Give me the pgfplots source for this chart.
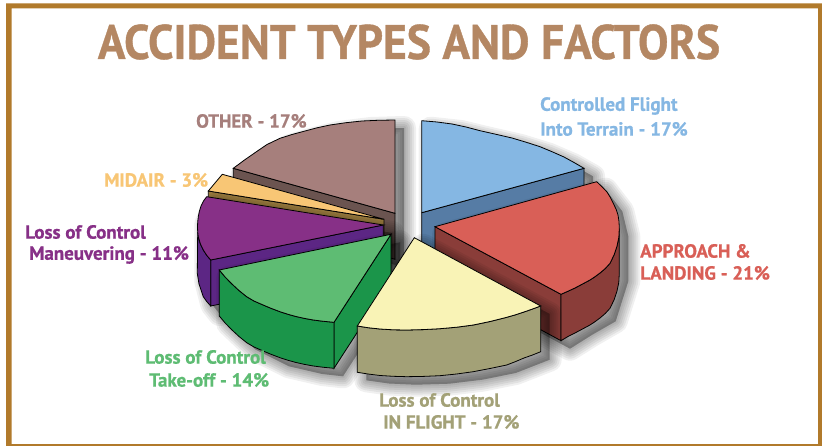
\documentclass[border=0pt]{standalone}
\usepackage{pgfplots}
\usepackage{pgfplotstable}
\pgfplotsset{compat=1.18}
\usepackage{fontspec}
\setmainfont{PT Sans}[BoldFeatures={FakeBold=0.8}]
\definecolor{frame}{HTML}{B17A2B}
\definecolor{ttl}{HTML}{B48763}
\definecolor{bluet}{HTML}{85B7E3}\definecolor{blues}{HTML}{567CA5}
\definecolor{redt}{HTML}{D95F57}\definecolor{reds}{HTML}{8A3D39}
\definecolor{yelt}{HTML}{F9F3B6}\definecolor{yels}{HTML}{A3A177}
\definecolor{grnt}{HTML}{5EBC73}\definecolor{grns}{HTML}{1B954A}
\definecolor{purt}{HTML}{873087}\definecolor{purs}{HTML}{5C2684}
\definecolor{midt}{HTML}{F8C675}\definecolor{mids}{HTML}{9A7B3E}
\definecolor{otht}{HTML}{A67F7C}\definecolor{oths}{HTML}{6B5450}
\pgfplotsset{sh/.style={draw=black,fill=black,opacity=0.06,line width=#1pt,line join=round,forget plot},
  sl/.style={draw=black,line width=.8pt,line join=miter,fill=#1,forget plot}}
\newcommand{\shadowplot}[1]{%
  \addplot[sh=24] table[x expr=\thisrow{x}+9,y expr=\thisrow{y}+8] {#1} -- cycle;
  \addplot[sh=20] table[x expr=\thisrow{x}+9,y expr=\thisrow{y}+8] {#1} -- cycle;
  \addplot[sh=16] table[x expr=\thisrow{x}+9,y expr=\thisrow{y}+8] {#1} -- cycle;
  \addplot[sh=12] table[x expr=\thisrow{x}+9,y expr=\thisrow{y}+8] {#1} -- cycle;
  \addplot[sh=8] table[x expr=\thisrow{x}+9,y expr=\thisrow{y}+8] {#1} -- cycle;
  \addplot[sh=4] table[x expr=\thisrow{x}+9,y expr=\thisrow{y}+8] {#1} -- cycle;
}
\pgfplotstableread{
x y
421.7 212.7
421.7 120.7
437 122
452 124
466 127
480 130.7
496 134.3
512 138
526 142.2
540 146.7
552 151.7
564 157
574 162.5
584 168.3
}\blueT
\pgfplotstableread{
x y
421.7 212.7
584 168.3
584 214
421.7 258.7
}\blueD
\pgfplotstableread{
x y
421.7 120.7
452 124
480 130.7
512 138
540 146.7
564 157
584 168.3
584 214
421.7 258.7
}\blueS
\pgfplotstableread{
x y
435 226.7
596.7 181.7
613.3 203.3
619.3 228.3
619.3 273.3
606.7 313.3
583.3 326.7
561 340.7
435 272.7
}\redS
\pgfplotstableread{
x y
435 226.7
596.7 181.7
602 186.7
607 192
610.4 197.5
613.3 203.3
616 209
618 215
619 221.5
619.3 228.3
618.8 237.5
617 246
614 255
610 263.3
605.3 268.5
600 273
595 276.7
590 280
582.5 284
575 288
568 291.2
561 294.3
}\redT
\pgfplotstableread{
x y
435 226.7
561 294.3
561 340.7
435 272.7
}\redD
\pgfplotstableread{
x y
561 294.3
568 291.2
575 288
582.5 284
590 280
595 276.7
600 273
605.3 268.5
610 263.3
614 255
617 246
618.8 237.5
619.3 228.3
619.3 273.3
618.8 282.5
617 291
614 300
610 308.3
605.3 313.5
600 318
595 321.7
590 325
582.5 329
575 333
568 336.5
561 340.7
}\redO
\pgfplotstableread{
x y
414.3 237.7
540.7 306
540.7 351.7
506.7 365
473.3 371.7
440 375.7
406.7 376.7
380 375.5
357.3 372.3
357.3 326
}\yelS
\pgfplotstableread{
x y
414.3 237.7
540.7 306
532.5 309
524 312
515.5 314.8
506.7 317.3
490 321.5
473.3 325
456.7 327.2
440 328.7
423.3 329.6
406.7 330
393 329.8
380 329
368 327.7
357.3 326
}\yelT
\pgfplotstableread{
x y
357.3 326
368 327.7
380 329
393 329.8
406.7 330
423.3 329.6
440 328.7
456.7 327.2
473.3 325
490 321.5
506.7 317.3
515.5 314.8
524 312
532.5 309
540.7 306
540.7 351.7
532.5 355
524 358
515.5 361.6
506.7 365
490 368.5
473.3 371.7
456.7 374
440 375.7
423.3 376.4
406.7 376.7
393 376.3
380 375.5
368 374
357.3 372.3
}\yelO
\pgfplotstableread{
x y
391 234.3
334 322.3
334 368.3
391 280.3
}\grnD
\pgfplotstableread{
x y
219.3 270
225.3 277.2
232 284
239 290.5
246.7 296.7
254 301
262 304.5
271 308.3
280 311.7
288 314.3
296 316.5
304.5 318.4
313.3 320
323.5 321.3
334 322.3
334 368.3
323.5 367.3
313.3 366
304.5 364.4
296 362.5
288 360.3
280 357.7
271 354.3
262 350.5
254 347
246.7 342.7
239 336.5
232 330
225.3 323.2
219.3 316
}\grnO
\pgfplotstableread{
x y
391 234.3
219.3 270
225.3 277.2
232 284
239 290.5
246.7 296.7
254 301
262 304.5
271 308.3
280 311.7
288 314.3
296 316.5
304.5 318.4
313.3 320
323.5 321.3
334 322.3
}\grnT
\pgfplotstableread{
x y
391 234.3
219.3 270
219.3 315.7
246.7 341.7
280 358.3
313.3 366
334 368.3
391 280.3
}\grnS
\pgfplotstableread{
x y
383.3 225
210.7 260
210.7 306
383.3 271
}\purD
\pgfplotstableread{
x y
197.7 232
198.3 236.7
200.3 243.7
203.3 250
206.7 255.3
210.7 260
210.7 306
206.7 301.5
203.3 296.7
199 284
197.3 273.3
}\purO
\pgfplotstableread{
x y
383.3 225
206.7 196.7
203.5 201
201 206
199.4 211.2
198.3 216.7
197.7 222
197.5 227
197.7 232
198.3 236.7
200.3 243.7
203.3 250
206.7 255.3
210.7 260
}\purT
\pgfplotstableread{
x y
383.3 225
206.7 196.7
197.3 216
197.3 273.3
203.3 296.7
210.7 306
383.3 271
}\purS
\pgfplotstableread{
x y
384 219.3
208.3 191
208.3 237
384 265.3
}\midD
\pgfplotstableread{
x y
384 219.3
222.3 174.3
208.3 191
}\midT
\pgfplotstableread{
x y
395 213.3
233.3 168.3
233.3 214.3
395 259.3
}\othD
\pgfplotstableread{
x y
395 213.3
395 120
378 120.3
362 121
346 122.7
330 125
317 127.8
305 131
292 134.5
280 138.3
267 144.5
256 152
244.5 160
233.3 168.3
}\othT
\pgfplotstableread{
x y
395 120
362 121
330 125
305 131
280 138.3
256 152
233.3 168.3
233.3 214.3
395 259.3
}\othS
\begin{document}
\begin{tikzpicture}
\begin{axis}[
  scale only axis,width=822pt,height=446pt,
  xmin=0,xmax=822,ymin=0,ymax=446,y dir=reverse,
  axis lines=none,clip=false,ticks=none,
  enlargelimits=false,
]
\addplot[draw=none,fill=white,forget plot] coordinates {(0,0)(822,0)(822,446)(0,446)} -- cycle;
\addplot[draw=none,fill=frame,forget plot,even odd rule] coordinates {(6,3.3)(822,3.3)(822,446)(6,446)(6,3.3)(11.7,8.3)(818,8.3)(818,444)(11.7,444)(11.7,8.3)} -- cycle;
\shadowplot{\othS}
\addplot[sl=oths] table {\othD} -- cycle;
\addplot[sl=otht] table {\othT} -- cycle;
\shadowplot{\blueS}
\addplot[sl=blues] table {\blueD} -- cycle;
\addplot[sl=bluet] table {\blueT} -- cycle;
\addplot[sl=mids] table {\midD} -- cycle;
\addplot[sl=midt] table {\midT} -- cycle;
\shadowplot{\purS}
\addplot[sl=purs] table {\purD} -- cycle;
\addplot[sl=purs] table {\purO} -- cycle;
\addplot[sl=purt] table {\purT} -- cycle;
\shadowplot{\grnS}
\addplot[sl=grns] table {\grnD} -- cycle;
\addplot[sl=grns] table {\grnO} -- cycle;
\addplot[sl=grnt] table {\grnT} -- cycle;
\shadowplot{\redS}
\addplot[sl=reds] table {\redD} -- cycle;
\addplot[sl=reds] table {\redO} -- cycle;
\addplot[sl=redt] table {\redT} -- cycle;
\shadowplot{\yelS}
\addplot[sl=yels] table {\yelO} -- cycle;
\addplot[sl=yelt] table {\yelT} -- cycle;
\node[text=ttl,anchor=center] at (axis cs:409,42) {\scalebox{.94}[1]{\fontsize{48.5}{48.5}\selectfont\bfseries ACCIDENT TYPES AND FACTORS}};
\tikzset{lb/.style={anchor=west,font=\fontsize{19}{22}\selectfont\bfseries,inner sep=0pt}}
\node[lb,text=bluet] at (axis cs:540,106) {Controlled Flight};
\node[lb,text=bluet] at (axis cs:540,129) {Into Terrain - 17\%};
\node[lb,text=redt] at (axis cs:640,251) {APPROACH \&};
\node[lb,text=redt] at (axis cs:640,273) {LANDING - 21\%};
\node[lb,text=yels] at (axis cs:379,400) {Loss of Control};
\node[lb,text=yels] at (axis cs:383,422) {IN FLIGHT - 17\%};
\node[lb,text=grnt] at (axis cs:145,357) {Loss of Control};
\node[lb,text=grnt] at (axis cs:149,380) {Take-off - 14\%};
\node[lb,text=purt] at (axis cs:25,232) {Loss of Control};
\node[lb,text=purt] at (axis cs:29,255) {Maneuvering - 11\%};
\node[lb,text=midt] at (axis cs:104,180) {MIDAIR - 3\%};
\node[lb,text=otht] at (axis cs:196,121) {OTHER - 17\%};
\end{axis}
\end{tikzpicture}
\end{document}
